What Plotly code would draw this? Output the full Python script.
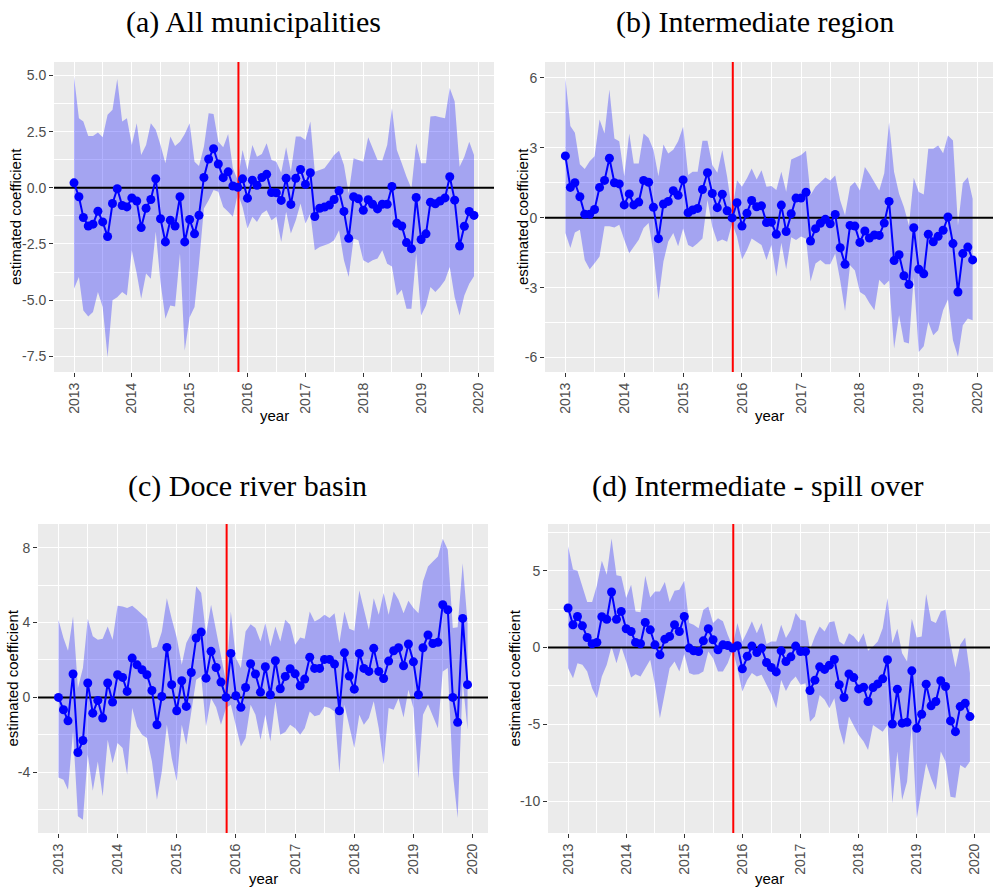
import pandas as pd
import plotly.graph_objects as go

# ---------------- data ----------------
months = pd.date_range("2013-01-01", "2019-12-01", freq="MS")
event_date = pd.Timestamp("2015-11-05")
year_ticks = list(range(2013, 2021))

titles = ["(a) All municipalities", "(b) Intermediate region",
          "(c) Doce river basin", "(d) Intermediate - spill over"]

a_est = [0.22, -0.40, -1.32, -1.70, -1.62, -1.04, -1.52, -2.17, -0.70, -0.04, -0.79, -0.85,
         -0.45, -0.59, -1.77, -0.91, -0.52, 0.40, -1.38, -2.41, -1.44, -1.70, -0.40, -2.41,
         -1.41, -2.05, -1.22, 0.46, 1.28, 1.74, 1.06, 0.45, 0.71, 0.08, 0.02, 0.40,
         -0.46, 0.34, 0.11, 0.46, 0.60, -0.21, -0.22, -0.56, 0.42, -0.74, 0.42, 0.82,
         0.15, 0.67, -1.28, -0.91, -0.86, -0.77, -0.52, -0.13, -1.05, -2.25, -0.40, -0.49,
         -1.00, -0.53, -0.73, -0.94, -0.73, -0.73, 0.06, -1.58, -1.70, -2.44, -2.71, -0.43,
         -2.30, -2.05, -0.64, -0.71, -0.59, -0.45, 0.49, -0.55, -2.59, -1.71, -1.05, -1.23]
a_hi = [4.96, 3.10, 2.95, 2.31, 2.31, 2.46, 2.25, 3.25, 3.47, 4.84, 2.95, 3.10,
        1.91, 2.87, 1.46, 1.91, 2.87, 2.58, 1.91, 1.09, 2.28, 1.86, 2.05, 2.40,
        2.87, 1.16, 0.97, 1.83, 3.32, 3.29, 2.05, 1.80, 2.40, 0.87, 0.34, 1.68,
        0.79, 1.91, 1.38, 1.50, 1.98, 1.24, 1.16, 0.67, 1.80, 0.71, 2.28, 2.28,
        2.13, 2.95, 0.71, 0.79, 0.87, 1.16, 1.46, 1.65, 1.01, -0.25, 1.31, 1.24,
        1.16, 2.25, 1.76, 1.24, 1.21, 1.91, 3.54, 1.68, 1.09, 0.49, -0.03, 1.98,
        1.09, 1.09, 3.17, 3.20, 3.14, 3.10, 4.44, 3.84, 0.94, 1.38, 2.05, 1.46]
a_lo = [-4.49, -3.97, -5.46, -5.73, -5.53, -4.64, -5.31, -7.54, -5.01, -4.87, -4.64, -4.79,
        -2.78, -3.82, -4.94, -3.82, -4.05, -1.96, -4.20, -5.83, -5.24, -5.28, -2.93, -7.25,
        -5.76, -5.31, -3.38, -0.92, -0.55, -0.10, -0.18, -0.85, -1.07, -1.29, -0.25, -0.85,
        -1.81, -1.29, -1.52, -1.14, -1.00, -1.44, -1.29, -2.41, -1.07, -2.04, -1.44, -0.70,
        -1.59, -1.14, -2.78, -2.63, -2.56, -2.48, -2.33, -1.89, -3.23, -3.97, -2.26, -2.33,
        -3.23, -3.35, -3.23, -3.15, -2.78, -3.38, -3.50, -4.79, -4.54, -5.38, -5.38, -2.93,
        -5.68, -5.24, -4.42, -4.64, -4.42, -4.12, -3.53, -4.87, -5.68, -4.79, -4.27, -3.94]

b_est = [2.65, 1.30, 1.50, 0.90, 0.15, 0.15, 0.35, 1.30, 1.60, 2.55, 1.50, 1.45,
         0.55, 1.02, 0.55, 0.67, 1.60, 1.52, 0.45, -0.90, 0.59, 0.70, 1.16, 0.96,
         1.62, 0.21, 0.33, 0.40, 1.21, 1.93, 1.04, 0.43, 1.01, 0.30, -0.01, 0.64,
         -0.36, 0.19, 0.74, 0.47, 0.51, -0.21, -0.19, -0.71, 0.54, -0.59, 0.17, 0.84,
         0.84, 1.09, -1.00, -0.47, -0.24, -0.07, -0.26, 0.14, -1.29, -2.00, -0.33, -0.36,
         -1.06, -0.57, -0.87, -0.74, -0.76, -0.23, 0.70, -1.84, -1.59, -2.49, -2.87, -0.43,
         -2.21, -2.41, -0.71, -1.03, -0.80, -0.54, 0.03, -1.11, -3.19, -1.54, -1.26, -1.81]
b_hi = [6.00, 3.93, 3.64, 2.29, 2.09, 2.42, 2.64, 4.21, 3.61, 5.50, 3.40, 3.28,
        1.78, 3.61, 2.32, 2.32, 3.61, 3.42, 2.92, 1.78, 3.14, 2.75, 2.92, 3.28,
        3.90, 1.83, 1.97, 1.97, 3.30, 3.30, 2.26, 1.93, 2.90, 1.76, 0.26, 1.61,
        1.33, 1.69, 2.11, 1.64, 2.04, 1.33, 1.36, 1.19, 1.97, 1.11, 2.50, 2.61,
        2.69, 2.87, 0.97, 1.33, 1.54, 1.72, 1.60, 1.81, 0.74, 0.10, 1.34, 1.53,
        1.17, 2.17, 1.89, 1.53, 1.17, 1.91, 4.10, 1.96, 1.03, 0.46, -0.33, 1.71,
        1.10, 1.00, 2.96, 2.96, 3.10, 2.77, 3.53, 3.31, -0.33, 1.49, 1.74, 0.81]
b_lo = [-0.66, -1.30, -0.63, -0.52, -1.81, -2.21, -1.95, -1.66, -0.37, -0.37, -0.42, -0.30,
        -0.95, -1.52, -1.23, -0.95, -0.44, -0.23, -1.52, -3.52, -1.88, -1.02, -0.66, -1.23,
        -0.46, -1.17, -1.27, -1.10, -0.89, 0.76, -0.39, -1.03, -0.93, -1.03, -0.24, -0.81,
        -1.79, -1.39, -0.89, -1.03, -1.17, -1.81, -1.17, -2.53, -1.07, -2.21, -0.84, -0.96,
        -0.81, -0.90, -2.74, -1.96, -1.81, -2.00, -2.00, -1.54, -2.69, -4.00, -2.04, -2.26,
        -3.19, -3.33, -3.66, -3.97, -2.66, -2.90, -2.69, -5.61, -4.19, -5.33, -5.40, -2.54,
        -5.76, -5.51, -4.47, -5.04, -4.83, -3.97, -3.51, -5.26, -5.97, -4.61, -4.33, -4.40]

c_est = [0.00, -0.66, -1.25, 1.25, -2.94, -2.30, 0.77, -0.84, -0.16, -1.10, 0.77, -0.25,
         1.21, 1.07, 0.32, 2.10, 1.74, 1.48, 1.21, 0.37, -1.46, 0.05, 2.67, 0.68,
         -0.71, 0.89, -0.48, 1.33, 3.17, 3.49, 1.03, 2.46, 1.60, 0.82, 0.00, 2.35,
         0.09, -0.53, 0.53, 1.80, 1.25, 0.28, 1.64, 0.14, 1.96, 0.46, 1.12, 1.53,
         1.26, 0.62, 0.98, 2.15, 1.55, 1.55, 2.03, 2.03, 1.78, -0.71, 2.38, 1.14,
         0.44, 2.35, 1.55, 1.39, 2.62, 1.39, 1.01, 1.94, 2.49, 2.65, 1.69, 2.85,
         1.90, 0.14, 2.65, 3.33, 2.88, 2.94, 4.95, 4.68, 0.00, -1.33, 4.22, 0.68]
c_hi = [4.15, 3.17, 2.49, 4.32, 0.50, 1.57, 4.20, 3.26, 3.08, 3.13, 3.79, 3.08,
        4.89, 4.86, 4.77, 4.89, 4.68, 4.45, 4.20, 2.63, 2.70, 3.50, 5.30, 4.20,
        3.20, 1.74, 2.90, 3.43, 5.93, 5.57, 3.35, 4.95, 3.52, 2.31, 0.85, 4.59,
        2.10, 1.57, 3.52, 3.91, 3.70, 2.99, 3.97, 2.72, 3.79, 2.99, 4.15, 3.88,
        2.81, 3.20, 3.13, 4.59, 4.06, 4.20, 4.41, 4.24, 4.50, 2.90, 4.59, 3.66,
        3.56, 5.71, 4.68, 3.61, 5.30, 4.41, 5.57, 4.41, 5.66, 5.21, 4.50, 5.16,
        4.77, 4.50, 6.19, 6.99, 7.26, 7.53, 8.47, 7.88, 3.70, 3.74, 7.17, 3.97]
c_lo = [-4.27, -4.40, -4.93, -1.81, -6.35, -6.53, -3.06, -4.98, -3.42, -5.28, -2.26, -3.51,
        -2.44, -2.70, -4.13, -0.57, -1.55, -1.99, -2.17, -3.42, -5.46, -3.95, -1.46, -3.24,
        -4.48, -1.46, -2.53, -0.75, 0.94, 1.12, -1.55, -0.04, -0.53, -1.46, -0.57, -0.39,
        -1.46, -2.62, -2.17, -0.39, -0.93, -2.26, -0.93, -2.35, -0.21, -1.99, -1.85, -1.46,
        -1.64, -1.99, -1.64, -0.75, -1.01, -0.93, -0.48, -0.57, -0.75, -4.04, -0.39, -1.46,
        -2.70, -0.93, -1.46, -1.10, -0.21, -1.64, -3.59, -0.57, -0.66, -0.04, -1.07, 0.41,
        -0.57, -4.31, -0.93, -0.36, -1.01, -1.64, 1.39, 1.57, -4.04, -6.44, 0.85, -1.73]

d_est = [2.57, 1.48, 2.02, 1.41, 0.65, 0.24, 0.33, 2.00, 1.83, 3.61, 1.83, 2.35,
         1.22, 1.04, 0.33, 0.24, 1.63, 1.15, 0.17, -0.48, 0.54, 0.72, 1.48, 1.04,
         2.02, -0.04, -0.22, -0.26, 0.43, 1.22, 0.50, -0.15, 0.17, 0.13, -0.04, 0.11,
         -1.39, -0.57, 0.09, -0.33, -0.04, -0.98, -1.30, -1.59, -0.22, -0.91, -0.61, 0.09,
         -0.26, -0.26, -2.80, -2.13, -1.26, -1.43, -1.15, -0.78, -2.43, -3.26, -1.72, -1.96,
         -2.70, -2.59, -3.52, -2.61, -2.37, -2.04, -0.80, -4.98, -2.72, -4.93, -4.87, -1.52,
         -5.26, -4.35, -2.39, -3.80, -3.52, -2.17, -2.54, -4.78, -5.48, -3.85, -3.63, -4.50]
d_hi = [6.59, 5.07, 5.00, 3.98, 2.96, 2.96, 4.04, 5.65, 4.74, 7.09, 4.70, 4.63,
        3.22, 4.09, 2.35, 2.30, 4.67, 3.26, 3.65, 3.65, 4.26, 2.96, 3.70, 3.76,
        4.35, 1.59, 1.48, 1.26, 2.46, 2.67, 1.59, 1.91, 1.70, 0.83, 0.07, 1.59,
        0.39, 1.04, 1.70, 0.93, 1.59, 0.22, 0.39, 0.39, 1.48, 0.61, 1.15, 2.24,
        1.80, 1.74, -0.15, 0.72, 1.37, 1.04, 1.65, 1.70, 0.39, 0.17, 0.93, 0.72,
        0.33, 0.93, -0.22, 0.07, 0.39, 1.26, 3.22, 0.28, 1.22, -0.37, -0.91, 1.87,
        0.65, 0.72, 3.48, 1.74, 1.59, 2.35, 2.46, 0.28, -1.30, 0.17, 0.65, -1.67]
d_lo = [-1.35, -2.00, -1.02, -1.13, -1.57, -2.65, -3.30, -1.89, -1.13, 0.07, -1.02, 0.07,
        -0.91, -1.96, -1.74, -1.89, -1.35, -0.80, -2.43, -4.61, -2.87, -1.35, -0.91, -1.57,
        -0.43, -1.67, -1.78, -1.74, -1.57, -0.26, -0.70, -1.57, -1.57, -1.02, -0.15, -1.35,
        -2.87, -2.11, -1.67, -1.89, -1.78, -2.43, -3.04, -3.96, -2.11, -2.83, -2.22, -1.89,
        -2.43, -2.33, -4.83, -4.50, -3.09, -3.41, -3.96, -3.30, -5.26, -6.35, -4.50, -5.04,
        -5.70, -6.13, -6.67, -5.04, -5.26, -5.48, -5.04, -10.15, -6.78, -9.93, -8.74, -5.04,
        -11.13, -9.39, -7.54, -8.52, -9.28, -6.78, -7.43, -9.72, -9.78, -7.65, -7.87, -7.43]

a_yticks = [-7.5, -5.0, -2.5, 0.0, 2.5, 5.0]
a_ytext = ["-7.5", "-5.0", "-2.5", "0.0", "2.5", "5.0"]
b_yticks = [-6, -3, 0, 3, 6]
c_yticks = [-4, 0, 4, 8]
d_yticks = [-10, -5, 0, 5]

# ---------------- layout helpers ----------------
W, H = 993, 887
panels = [
    dict(est=a_est, lo=a_lo, hi=a_hi, yt=a_yticks, ytxt=a_ytext,
         ymin=[-6.25, -3.75, -1.25, 1.25, 3.75], yr=[-8.2, 5.6],
         px=(54, 494), py=(62, 372), title_xy=(253, 22), ylab_x=15, xlab_y=415),
    dict(est=b_est, lo=b_lo, hi=b_hi, yt=b_yticks, ytxt=[str(v) for v in b_yticks],
         ymin=[-4.5, -1.5, 1.5, 4.5], yr=[-6.62, 6.68],
         px=(545, 993), py=(62, 372), title_xy=(755, 22), ylab_x=522, xlab_y=415),
    dict(est=c_est, lo=c_lo, hi=c_hi, yt=c_yticks, ytxt=[str(v) for v in c_yticks],
         ymin=[-6, -2, 2, 6], yr=[-7.24, 9.26],
         px=(38, 488), py=(524, 833), title_xy=(247, 486), ylab_x=12, xlab_y=878),
    dict(est=d_est, lo=d_lo, hi=d_hi, yt=d_yticks, ytxt=[str(v) for v in d_yticks],
         ymin=[-7.5, -2.5, 2.5, 7.5], yr=[-12.08, 8.04],
         px=(548, 990), py=(524, 833), title_xy=(758, 486), ylab_x=514, xlab_y=878),
]

span = months[-1] - months[0]
x_lo = months[0] - 0.05 * span
x_hi = months[-1] + 0.05 * span
xtickvals = [pd.Timestamp(f"{y}-01-01") for y in year_ticks]
xminor = [pd.Timestamp(f"{y}-07-01") for y in range(2012, 2020)]

fig = go.Figure()
annotations = []
layout_axes = {}

for k, p in enumerate(panels, start=1):
    xa = "x" if k == 1 else f"x{k}"
    ya = "y" if k == 1 else f"y{k}"
    # ribbon
    fig.add_trace(go.Scatter(
        x=list(months) + list(months[::-1]),
        y=list(p["hi"]) + list(p["lo"][::-1]),
        fill="toself", fillcolor="rgba(0,0,255,0.3)",
        line=dict(width=0), mode="lines", hoverinfo="skip",
        showlegend=False, xaxis=xa, yaxis=ya))
    # zero line
    fig.add_trace(go.Scatter(
        x=[x_lo, x_hi], y=[0, 0], mode="lines",
        line=dict(color="black", width=2), hoverinfo="skip",
        showlegend=False, xaxis=xa, yaxis=ya))
    # event line
    fig.add_trace(go.Scatter(
        x=[event_date, event_date], y=p["yr"], mode="lines",
        line=dict(color="red", width=2), hoverinfo="skip",
        showlegend=False, xaxis=xa, yaxis=ya))
    # estimates
    fig.add_trace(go.Scatter(
        x=months, y=p["est"], mode="lines+markers",
        line=dict(color="blue", width=2),
        marker=dict(color="blue", size=9),
        showlegend=False, xaxis=xa, yaxis=ya))

    x0, x1 = p["px"]
    y0, y1 = p["py"]
    axname = "xaxis" if k == 1 else f"xaxis{k}"
    ayname = "yaxis" if k == 1 else f"yaxis{k}"
    layout_axes[axname] = dict(
        domain=[x0 / W, x1 / W], anchor=ya, type="date",
        range=[x_lo, x_hi],
        tickmode="array", tickvals=xtickvals, ticktext=[str(y) for y in year_ticks],
        tickangle=-90, ticks="outside", ticklen=4, tickcolor="#333333",
        tickfont=dict(family="Liberation Sans, Arial", size=14, color="#4D4D4D"),
        showgrid=True, gridcolor="white", gridwidth=1.2,
        minor=dict(tickvals=xminor, showgrid=True, gridcolor="white", gridwidth=0.6, ticks=""),
        zeroline=False, showline=False)
    layout_axes[ayname] = dict(
        domain=[1 - y1 / H, 1 - y0 / H], anchor=xa, range=p["yr"],
        tickmode="array", tickvals=p["yt"], ticktext=p["ytxt"],
        ticks="outside", ticklen=4, tickcolor="#333333",
        tickfont=dict(family="Liberation Sans, Arial", size=14, color="#4D4D4D"),
        showgrid=True, gridcolor="white", gridwidth=1.2,
        minor=dict(tickvals=p["ymin"], showgrid=True, gridcolor="white", gridwidth=0.6, ticks=""),
        zeroline=False, showline=False)

    tx, ty = p["title_xy"]
    annotations.append(dict(text=titles[k - 1], x=tx / W, y=1 - ty / H,
                            xref="paper", yref="paper", xanchor="center", yanchor="middle",
                            showarrow=False,
                            font=dict(family="Liberation Serif, serif", size=30, color="black")))
    annotations.append(dict(text="estimated coefficient", x=p["ylab_x"] / W,
                            y=1 - (y0 + y1) / 2 / H, xref="paper", yref="paper",
                            xanchor="center", yanchor="middle", textangle=-90, showarrow=False,
                            font=dict(family="Liberation Sans, Arial", size=15, color="black")))
    annotations.append(dict(text="year", x=(x0 + x1) / 2 / W, y=1 - p["xlab_y"] / H,
                            xref="paper", yref="paper", xanchor="center", yanchor="middle",
                            showarrow=False,
                            font=dict(family="Liberation Sans, Arial", size=15, color="black")))

fig.update_layout(
    width=W, height=H, margin=dict(l=0, r=0, t=0, b=0),
    paper_bgcolor="white", plot_bgcolor="#EBEBEB",
    showlegend=False, annotations=annotations, **layout_axes)

fig.write_html("out.html", config={"displayModeBar": False},
               post_script="document.body.style.margin='0';document.body.style.overflow='hidden';")
